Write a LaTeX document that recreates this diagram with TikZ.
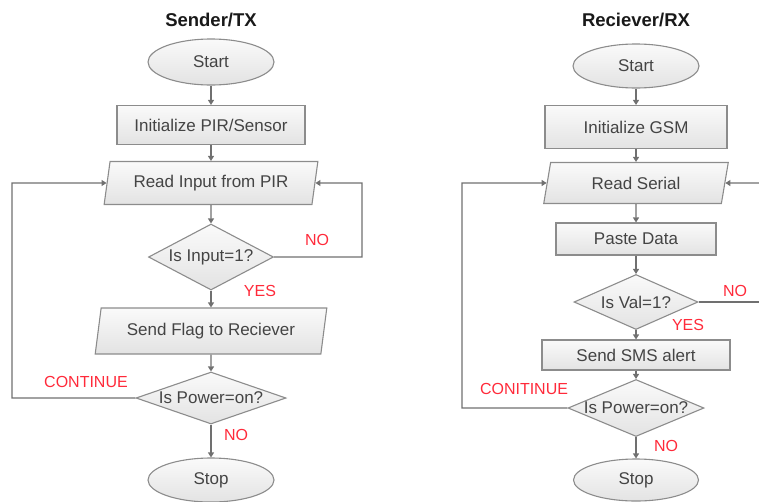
\documentclass[tikz,border=0pt]{standalone}
\usepackage{fontspec}
\setmainfont{Liberation Sans}
\usetikzlibrary{shapes.geometric,arrows.meta}
\definecolor{edgegray}{HTML}{8C8C8C}
\definecolor{linegray}{HTML}{707070}
\definecolor{txtgray}{HTML}{444444}
\definecolor{lblred}{HTML}{FF2A3A}
% zero-width text so that the diamond's size comes from its minimum width/height
\newcommand{\dtext}[1]{\makebox[0pt]{#1}}
\tikzset{
  box/.style={draw=edgegray, line width=1.1pt, top color=white!98!black, bottom color=white!89!black,
    text=txtgray, font=\fontsize{17}{19}\selectfont, inner sep=0pt},
  terminal/.style={box, ellipse},
  procbox/.style={box, rectangle},
  iobox/.style={box, trapezium, trapezium left angle=74, trapezium right angle=106, trapezium stretches=true},
  decision/.style={box, diamond, aspect=1},
  title/.style={font=\fontsize{18.5}{20}\selectfont\bfseries, text=black!90},
  lbl/.style={text=lblred, font=\fontsize{16}{18}\selectfont},
  flow/.style={draw=linegray, line width=1.1pt, -{Triangle[length=5pt,width=6pt]}},
  plain/.style={draw=linegray, line width=1.1pt},
}
\begin{document}
\begin{tikzpicture}[x=1pt,y=-1pt]
\useasboundingbox (0,0) rectangle (759,501);

% ---------- Sender / TX ----------
\node[title] (titleL) at (211,20) {Sender/TX};
\node[terminal, minimum width=126, minimum height=46] (startL) at (211,62) {Start};
\node[procbox, minimum width=188, minimum height=39] (initL) at (211,125) {Initialize PIR/Sensor};
\node[iobox, minimum width=214, minimum height=43] (readL) at (211,183) {Read Input from PIR};
\node[decision, minimum width=125, minimum height=66] (dec1L) at (211,257) {\dtext{Is Input=1?}};
\node[iobox, minimum width=232, minimum height=46] (sendL) at (211,331) {Send Flag to Reciever};
\node[decision, minimum width=150, minimum height=52] (dec2L) at (211,398) {\dtext{Is Power=on?}};
\node[terminal, minimum width=126, minimum height=44] (stopL) at (211,480) {Stop};

\draw[flow] (startL) -- (initL);
\draw[flow] (initL) -- (readL);
\draw[flow] (readL) -- (dec1L);
\draw[flow] (dec1L) -- (sendL);
\draw[flow] (sendL) -- (dec2L);
\draw[flow] (dec2L) -- (stopL);

\coordinate (noL) at (362,183);
\coordinate (contL) at (12,183);
\draw[flow] (dec1L.east) -| (noL) -- (readL.east);
\draw[flow] (dec2L.west) -| (contL) -- (readL.west);

\node[lbl] (noLbl1) at (317,240) {NO};
\node[lbl] (yesLbl1) at (260,291) {YES};
\node[lbl] (contLbl1) at (86,382) {CONTINUE};
\node[lbl] (noLbl2) at (236,435) {NO};

% ---------- Receiver / RX ----------
\node[title] (titleR) at (636,20) {Reciever/RX};
\node[terminal, minimum width=126, minimum height=44] (startR) at (636,66) {Start};
\node[procbox, minimum width=182, minimum height=43] (initR) at (636,127) {Initialize GSM};
\node[iobox, minimum width=185, minimum height=41] (readR) at (636,183) {Read Serial};
\node[procbox, minimum width=160, minimum height=32] (pasteR) at (636,239) {Paste Data};
\node[decision, minimum width=124, minimum height=55] (dec1R) at (636,302) {\dtext{Is Val=1?}};
\node[procbox, minimum width=188, minimum height=30] (smsR) at (636,355) {Send SMS alert};
\node[decision, minimum width=136, minimum height=57] (dec2R) at (636,408) {\dtext{Is Power=on?}};
\node[terminal, minimum width=125, minimum height=42] (stopR) at (636,480) {Stop};

\draw[flow] (startR) -- (initR);
\draw[flow] (initR) -- (readR);
\draw[flow] (readR) -- (pasteR);
\draw[flow] (pasteR) -- (dec1R);
\draw[flow] (dec1R) -- (smsR);
\draw[flow] (smsR) -- (dec2R);
\draw[flow] (dec2R) -- (stopR);

\coordinate (backR) at (759,183);
\coordinate (noR) at (759,302);
\coordinate (contR) at (462,183);
\draw[flow] (backR) -- (readR.east);
\draw[plain] (dec1R.east) -- (noR);
\draw[flow] (dec2R.west) -| (contR) -- (readR.west);

\node[lbl] (noLbl3) at (735,291) {NO};
\node[lbl] (yesLbl3) at (688,325) {YES};
\node[lbl] (contLbl3) at (524,389) {CONITINUE};
\node[lbl] (noLbl4) at (666,446) {NO};
\end{tikzpicture}
\end{document}
